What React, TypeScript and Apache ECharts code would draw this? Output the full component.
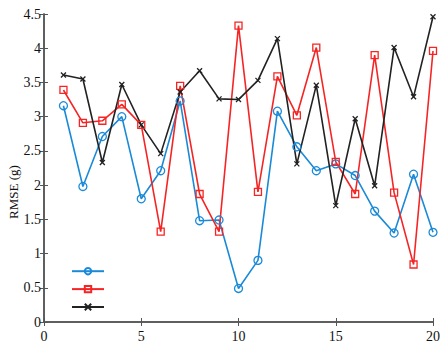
import React, { useEffect, useRef } from "react";
import * as echarts from "echarts";

const xValues = [1, 2, 3, 4, 5, 6, 7, 8, 9, 10, 11, 12, 13, 14, 15, 16, 17, 18, 19, 20];
const blueSeries = [3.16, 1.98, 2.71, 3.0, 1.8, 2.21, 3.23, 1.48, 1.49, 0.49, 0.9, 3.08, 2.56, 2.21, 2.31, 2.14, 1.62, 1.3, 2.16, 1.31];
const redSeries = [3.39, 2.91, 2.94, 3.18, 2.88, 1.32, 3.45, 1.87, 1.32, 4.33, 1.9, 3.59, 3.02, 4.01, 2.34, 1.87, 3.9, 1.89, 0.84, 3.96];
const blackSeries = [3.61, 3.55, 2.33, 3.47, 2.88, 2.46, 3.36, 3.67, 3.26, 3.25, 3.53, 4.14, 2.31, 3.46, 1.7, 2.97, 1.99, 4.01, 3.29, 4.46];
const yAxisTitle = "RMSE (g)";

const BLUE = "#1a8ad8";
const RED = "#f52525";
const BLACK = "#222222";
const FONT = "Liberation Serif";

export default function App() {
  const ref = useRef<HTMLDivElement>(null);
  useEffect(() => {
    if (!ref.current) return;
    const chart = echarts.init(ref.current, null, { renderer: "svg" });
    const mk = (vals: number[]) => vals.map((v, i) => [xValues[i], v]);
    const axisLine = { show: true, lineStyle: { color: "#555", width: 1.5 } };
    const tick = { show: true, inside: true, length: 4, lineStyle: { color: "#555", width: 1 } };
    chart.setOption({
      animation: false,
      backgroundColor: "#fff",
      grid: {
        left: 44,
        right: 15,
        top: 14,
        bottom: 32,
        containLabel: false,
        outerBoundsMode: "none",
      },
      graphic: [
        {
          type: "text",
          x: 13,
          y: 192,
          rotation: Math.PI / 2,
          style: {
            text: yAxisTitle,
            fill: "#111",
            font: `13px ${FONT}`,
            align: "center",
            verticalAlign: "middle",
          },
        },
      ],
      legend: {
        orient: "vertical",
        left: 66,
        top: 262,
        itemWidth: 32,
        itemHeight: 8,
        itemGap: 9.5,
        formatter: () => "",
        data: ["a", "b", "c"],
      },
      xAxis: [
        {
          type: "value",
          min: 0,
          max: 20,
          interval: 5,
          axisLine,
          axisTick: tick,
          splitLine: { show: false },
          axisLabel: { color: "#111", fontFamily: FONT, fontSize: 14, margin: 7 },
        },
        {
          type: "value",
          position: "top",
          min: 0,
          max: 20,
          interval: 5,
          axisLine,
          axisTick: tick,
          splitLine: { show: false },
          axisLabel: { show: false },
        },
      ],
      yAxis: [
        {
          type: "value",
          min: 0,
          max: 4.5,
          interval: 0.5,
          axisLine,
          axisTick: tick,
          splitLine: { show: false },
          axisLabel: { color: "#111", fontFamily: FONT, fontSize: 14, margin: 3 },
        },
        {
          type: "value",
          position: "right",
          min: 0,
          max: 4.5,
          interval: 0.5,
          axisLine,
          axisTick: tick,
          splitLine: { show: false },
          axisLabel: { show: false },
        },
      ],
      series: [
        {
          name: "a",
          type: "line",
          data: mk(blueSeries),
          symbol: "circle",
          symbolSize: 8,
          lineStyle: { color: BLUE, width: 1.6 },
          itemStyle: { color: "rgba(255,255,255,0)", borderColor: BLUE, borderWidth: 1.3 },
        },
        {
          name: "b",
          type: "line",
          data: mk(redSeries),
          symbol: "rect",
          symbolSize: 7,
          lineStyle: { color: RED, width: 1.6 },
          itemStyle: { color: "rgba(255,255,255,0)", borderColor: RED, borderWidth: 1.3 },
        },
        {
          name: "c",
          type: "line",
          data: mk(blackSeries),
          symbol: "path://M0,0L10,10M10,0L0,10",
          symbolSize: 5,
          lineStyle: { color: BLACK, width: 1.6 },
          itemStyle: { color: "rgba(0,0,0,0)", borderColor: BLACK, borderWidth: 1.3 },
        },
      ],
    });
    return () => chart.dispose();
  }, []);
  return (
    <div
      ref={ref}
      style={{ position: "fixed", left: 0, top: 0, width: 448, height: 354 }}
    />
  );
}
